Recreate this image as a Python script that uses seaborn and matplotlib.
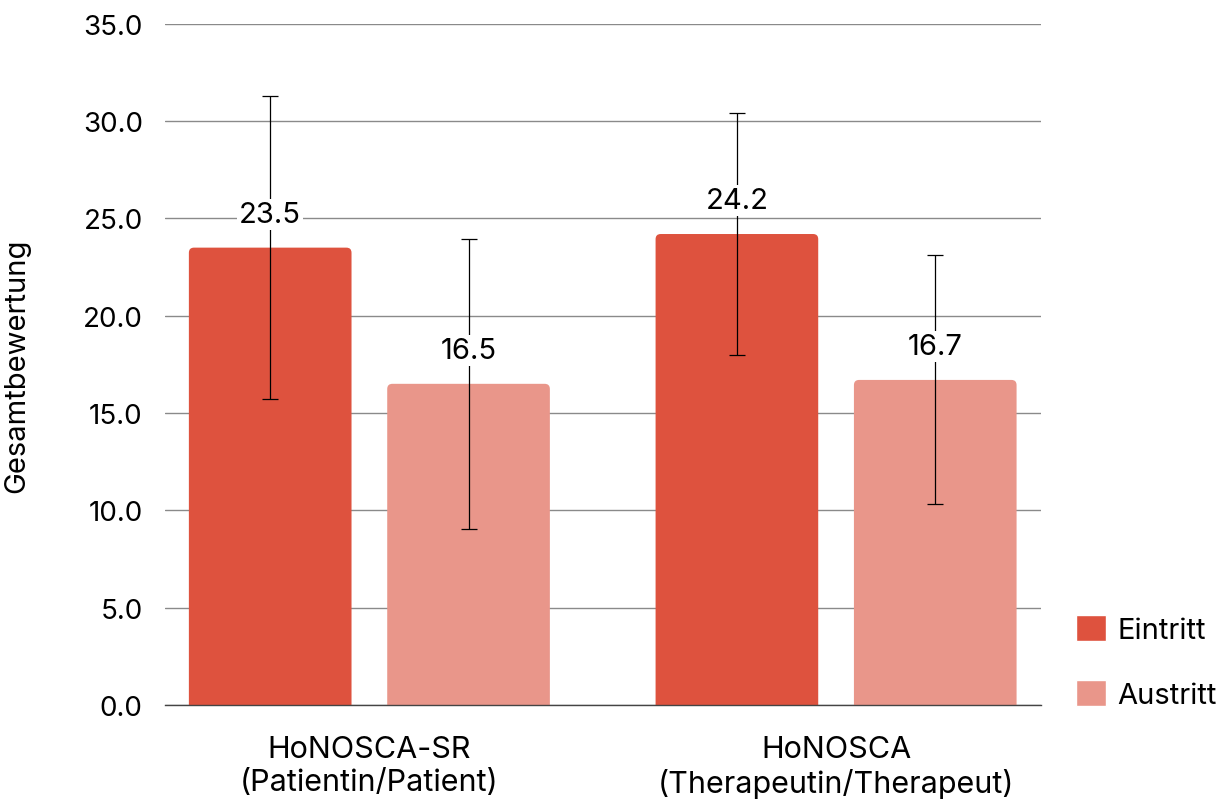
import numpy as np
import pandas as pd
import seaborn as sns
import matplotlib.pyplot as plt
from matplotlib.patches import FancyBboxPatch

# chart values
groups = ['HoNOSCA-SR\n(Patientin/Patient)', 'HoNOSCA\n(Therapeutin/Therapeut)']
phases = ['Eintritt', 'Austritt']
eintritt = [23.5, 24.2]
austritt = [16.5, 16.7]
err_eintritt = [7.8, 6.2]
err_austritt = [7.45, 6.4]
colors = ['#DE523E', '#E9968A']

df = pd.DataFrame({
    'Gruppe': groups * 2,
    'Zeitpunkt': [phases[0]] * 2 + [phases[1]] * 2,
    'Wert': eintritt + austritt,
    'Fehler': err_eintritt + err_austritt,
})

sns.set_theme(style='white')
plt.rcParams['font.family'] = ['Inter', 'DejaVu Sans']
plt.rcParams['text.color'] = 'black'
plt.rcParams['axes.labelcolor'] = 'black'
plt.rcParams['xtick.color'] = 'black'
plt.rcParams['ytick.color'] = 'black'

fig = plt.figure(figsize=(12.31, 8.03), dpi=100)
ax = fig.add_axes([0.134, 0.121, 0.712, 0.848])

sns.barplot(data=df, x='Gruppe', y='Wert', hue='Zeitpunkt', palette=colors,
            saturation=1, width=0.85, gap=0.18, errorbar=None, ax=ax, zorder=2)

ax.set_ylim(0, 35)
ax.set_xlim(-0.438, 1.44)

# rounded top corners: swap each rectangle for a rounded box
aspect = (35 / (0.848 * 803)) / (1.878 / (0.712 * 1231))
for cont in ax.containers:
    for p in cont.patches:
        x0, w, h = p.get_x(), p.get_width(), p.get_height()
        r = 0.011
        fb = FancyBboxPatch((x0, -0.5), w, h + 0.5,
                            boxstyle=f'round,pad=0,rounding_size={r}',
                            mutation_aspect=aspect, facecolor=p.get_facecolor(),
                            edgecolor='none', zorder=2, clip_on=True)
        ax.add_patch(fb)
        p.set_visible(False)

# error bars and value labels on each bar
for cont, err, vals in zip(ax.containers, [err_eintritt, err_austritt], [eintritt, austritt]):
    xs = [p.get_x() + p.get_width() / 2 for p in cont.patches]
    ax.errorbar(xs, vals, yerr=err, fmt='none', ecolor='black', elinewidth=0.9,
                capsize=6, capthick=0.9, zorder=4)
    for x, v in zip(xs, vals):
        ax.text(x, v + 1.7, f'{v:.1f}', ha='center', va='center', fontsize=21,
                color='black', zorder=5,
                bbox=dict(facecolor='white', edgecolor='none', pad=1.5))

ax.set_yticks(np.arange(0, 35.1, 5))
ax.set_yticklabels([f'{t:.1f}' for t in np.arange(0, 35.1, 5)])
ax.grid(axis='y', color='#8a8a8a', linewidth=1.0, zorder=0)
ax.set_axisbelow(True)
for s in ['top', 'right', 'left']:
    ax.spines[s].set_visible(False)
ax.spines['bottom'].set_color('#444444')
ax.spines['bottom'].set_linewidth(1.0)
ax.tick_params(axis='y', length=0, pad=16, labelsize=20, labelcolor='black')
ax.tick_params(axis='x', length=0, pad=22, labelsize=22, labelcolor='black')
ax.set_xlabel('')
ax.set_ylabel('Gesamtbewertung', fontsize=21, labelpad=38, color='black')

leg = ax.legend(title=None, frameon=False, loc='lower left', bbox_to_anchor=(1.01, -0.045),
                fontsize=21, handlelength=1.0, handleheight=1.0, labelspacing=1.25,
                handletextpad=0.4)
for t in leg.get_texts():
    t.set_color('black')

fig.savefig('out.png', dpi=100)
